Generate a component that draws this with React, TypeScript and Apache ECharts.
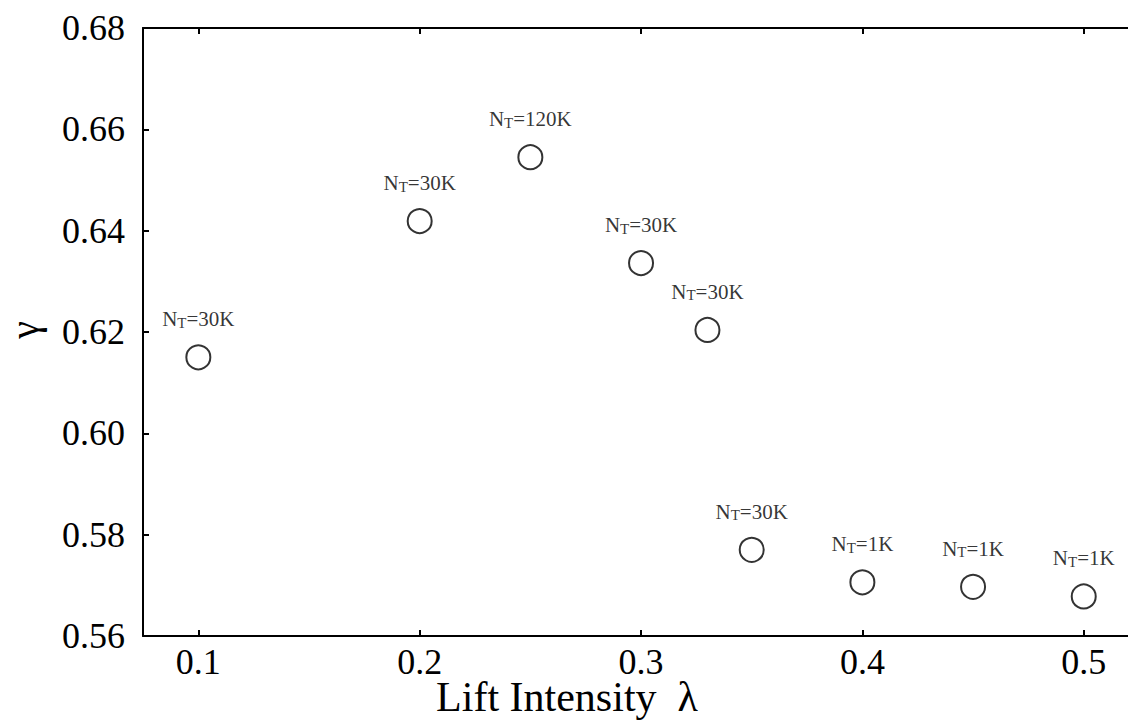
import React, { useEffect, useRef } from "react";
import * as echarts from "echarts";

const lambdas = [0.1, 0.2, 0.25, 0.3, 0.33, 0.35, 0.4, 0.45, 0.5];
const gammas = [0.615, 0.6419, 0.6545, 0.6336, 0.6204, 0.577, 0.5706, 0.5697, 0.5678];
const ntLabels = ["30K", "30K", "120K", "30K", "30K", "30K", "1K", "1K", "1K"];
const xTicks = [0.1, 0.2, 0.3, 0.4, 0.5];
const yTicks = [0.56, 0.58, 0.6, 0.62, 0.64, 0.66, 0.68];

const SERIF = "'Liberation Serif', 'Times New Roman', serif";

export default function App() {
  const ref = useRef<HTMLDivElement>(null);
  useEffect(() => {
    if (!ref.current) return;
    const chart = echarts.init(ref.current, undefined, { renderer: "svg" });
    const axisLine = { show: true, lineStyle: { color: "#000", width: 2 } };
    const big = { fontFamily: SERIF, fontSize: 36, color: "#000" };
    chart.setOption({
      animation: false,
      backgroundColor: "#fff",
      textStyle: { fontFamily: SERIF, color: "#000" },
      grid: { left: 143, top: 28, right: 0, bottom: 84, outerBoundsMode: "none", containLabel: false },
      xAxis: [
        {
          type: "value",
          position: "bottom",
          min: 0.075,
          max: 0.52,
          axisLine,
          splitLine: { show: false },
          axisTick: { show: true, inside: true, length: 6, customValues: xTicks, lineStyle: { color: "#000", width: 2 } },
          axisLabel: {
            customValues: xTicks,
            formatter: (v: number) => `{a|${Math.round(v * 10) / 10}}`,
            rich: { a: { ...big, lineHeight: 28 } },
            margin: 12,
          },
        },
        {
          type: "value",
          position: "top",
          min: 0.075,
          max: 0.52,
          axisLine,
          splitLine: { show: false },
          axisTick: { show: true, inside: true, length: 6, customValues: xTicks, lineStyle: { color: "#000", width: 2 } },
          axisLabel: { show: false },
        },
      ],
      yAxis: {
        type: "value",
        min: 0.56,
        max: 0.68,
        axisLine,
        splitLine: { show: false },
        axisTick: { show: true, inside: true, length: 6, customValues: yTicks, lineStyle: { color: "#000", width: 2 } },
        axisLabel: {
          customValues: yTicks,
          formatter: (v: number) => `{a|${v.toFixed(2)}}`,
          rich: { a: big },
          margin: 18,
        },
      },
      graphic: [
        {
          type: "text",
          x: 24,
          y: 330,
          rotation: Math.PI / 2,
          style: {
            text: "γ",
            fill: "#000",
            fontFamily: SERIF,
            fontSize: 40,
            textAlign: "center",
            textVerticalAlign: "middle",
          },
        },
        {
          type: "text",
          x: 567,
          y: 697,
          style: {
            text: "Lift Intensity  λ",
            fill: "#000",
            fontFamily: SERIF,
            fontSize: 42,
            lineHeight: 36,
            textAlign: "center",
            textVerticalAlign: "middle",
          },
        },
      ],
      series: [
        {
          type: "scatter",
          xAxisIndex: 0,
          data: lambdas.map((x, i) => [x, gammas[i]]),
          symbol: "emptyCircle",
          symbolSize: 24,
          itemStyle: { color: "#000", borderColor: "#000", borderWidth: 1.8 },
          label: {
            show: true,
            position: "top",
            distance: 14,
            formatter: (p: any) => `{n|N}{s|T}{n|=${ntLabels[p.dataIndex]}}`,
            rich: {
              n: { fontFamily: SERIF, fontSize: 21, color: "#000", lineHeight: 22 },
              s: { fontFamily: SERIF, fontSize: 15, color: "#000", lineHeight: 12, verticalAlign: "bottom" },
            },
          },
        },
      ],
    });
    return () => chart.dispose();
  }, []);
  return <div ref={ref} style={{ width: 1128, height: 720, position: "absolute", left: 0, top: 0 }} />;
}
